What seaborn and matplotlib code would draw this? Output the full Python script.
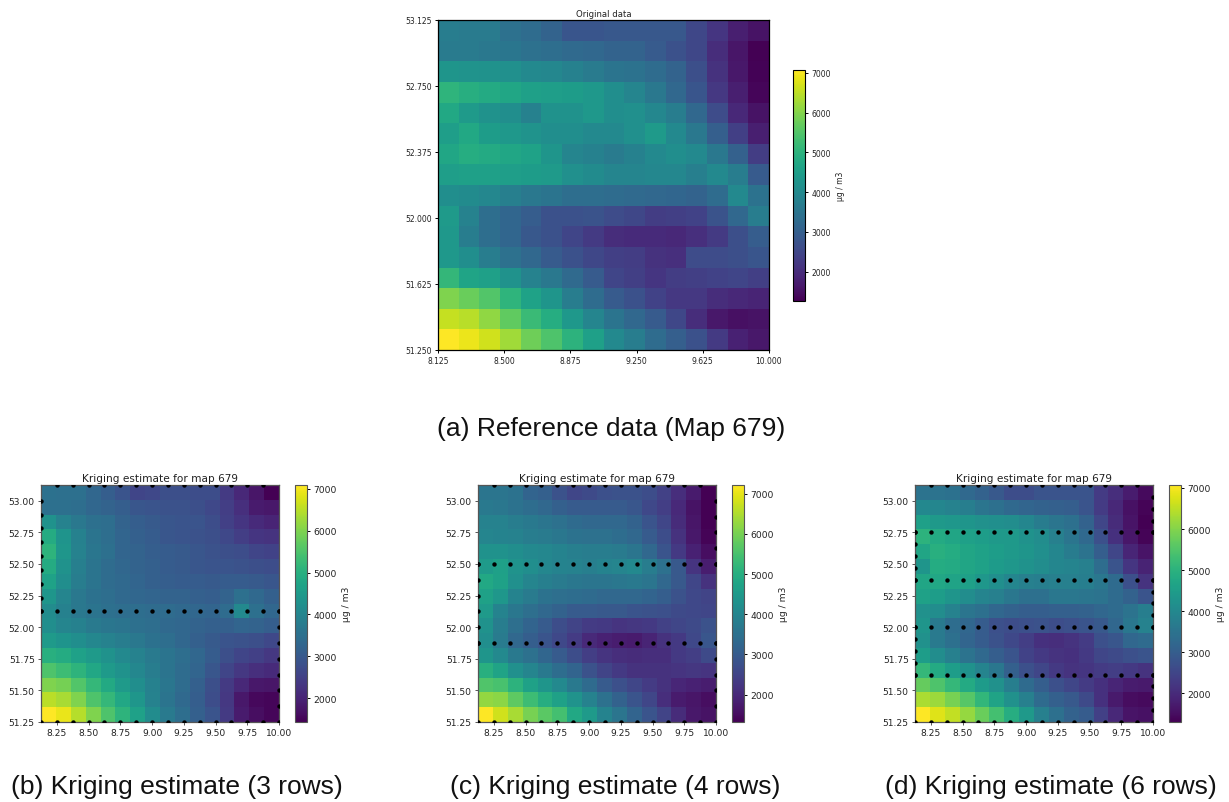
# -*- coding: utf-8 -*-
'Reference map and three kriging estimates, one heatmap for each.'
import numpy as np
import matplotlib
matplotlib.use("Agg")
import matplotlib.pyplot as plt
import seaborn as sns

# values, top row (north) first, ug / m3
map_original = [
    [3700,3650,3650,3400,3300,3100,2800,2800,2850,2850,2850,2850,2500,2150,1750,1550],
    [3650,3650,3600,3550,3400,3350,3250,3200,3100,3100,2900,2700,2500,2000,1600,1265],
    [4300,4250,4200,4150,4000,3950,3800,3650,3500,3450,3300,3100,2650,2100,1650,1290],
    [5050,4900,4800,4700,4550,4500,4450,4350,4100,3900,3600,3200,2800,2200,1750,1350],
    [4750,4400,4200,4100,3800,4200,4200,4350,4100,4150,3950,3700,3200,2600,1900,1550],
    [4500,4750,4450,4350,4250,4100,4100,4000,4000,4150,4400,4000,3600,3000,2350,1750],
    [4700,4850,4800,4700,4600,4300,3900,3800,3650,3800,4000,4100,4000,3600,3050,2300],
    [4500,4550,4550,4500,4450,4400,4150,4050,3900,3900,3950,3950,3750,4000,3700,2900],
    [4100,4050,3950,3750,3600,3500,3350,3350,3300,3250,3200,3150,3100,3300,4000,3450],
    [4400,3850,3350,3150,2950,2700,2700,2750,2600,2500,2300,2350,2400,2750,3200,3700],
    [4350,3700,3350,3150,2850,2700,2450,2250,2000,1950,1950,1900,2050,2250,2650,2950],
    [4350,4100,3700,3400,3200,2900,2700,2500,2350,2300,2100,2050,2600,2600,2650,2800],
    [5100,4650,4550,4200,3850,3600,3250,2900,2450,2350,2150,2300,2350,2400,2450,2350],
    [5950,5750,5500,5050,4600,4300,3700,3300,2900,2700,2400,2200,2200,2000,1900,1850],
    [6550,6450,6100,5650,5200,4850,4350,3900,3500,3200,2900,2500,2000,1650,1500,1550],
    [7070,6900,6650,6250,5800,5450,5000,4550,4000,3700,3300,3000,2700,2250,1800,1650],
]
map_3rows = [
    [3550,3500,3500,3300,3100,2900,2600,2650,2800,2800,2750,2750,2400,2050,1750,1430],
    [3500,3500,3450,3300,3200,3100,2950,2900,2850,2850,2800,2650,2450,2200,1850,1800],
    [4300,3950,3700,3500,3450,3200,3100,3000,2950,2900,2900,2750,2500,2300,2100,2000],
    [4900,4350,3900,3600,3450,3250,3150,3050,2950,2900,2850,2800,2650,2450,2300,2250],
    [5100,4400,3950,3650,3500,3250,3200,3100,3050,3000,2950,2850,2800,2750,2600,2550],
    [4900,4300,3850,3600,3400,3300,3200,3150,3050,3000,2950,2900,2900,2850,2800,2750],
    [4700,4200,3800,3600,3400,3350,3250,3150,3100,3050,3050,3000,3050,3050,3000,2950],
    [4400,4000,3700,3550,3450,3350,3300,3250,3200,3200,3150,3100,3200,3500,3350,3150],
    [4150,3900,3700,3600,3500,3450,3450,3400,3400,3350,3300,3250,3400,4100,3500,3300],
    [4200,4000,3900,3750,3650,3600,3500,3450,3350,3300,3200,3150,3150,3250,3200,3100],
    [4500,4350,4200,4050,3950,3800,3700,3550,3450,3300,3150,3000,2900,2850,2800,2650],
    [5000,4900,4650,4500,4300,4100,3950,3750,3600,3450,3300,3050,2800,2600,2500,2350],
    [5500,5300,5100,4800,4500,4300,4050,3800,3600,3400,3250,2950,2600,2350,2200,2100],
    [6000,5900,5550,5200,4850,4500,4200,3900,3650,3400,3150,2800,2400,2050,1800,1750],
    [6500,6350,6000,5500,5200,4800,4400,3950,3600,3350,3100,2750,2350,1800,1550,1500],
    [7090,6900,6450,6000,5500,5100,4650,4150,3750,3450,3150,2900,2400,1850,1650,1500],
]
map_4rows = [
    [3600,3600,3550,3200,3100,2800,2550,2650,2750,2800,2800,2700,2450,2100,1750,1320],
    [3700,3650,3550,3400,3300,3100,3000,3000,3000,3000,2900,2600,2400,2000,1600,1330],
    [3900,3900,3800,3700,3600,3500,3350,3300,3300,3300,3150,2850,2550,2050,1650,1340],
    [4000,3950,3900,3800,3750,3650,3550,3500,3500,3400,3300,3000,2700,2150,1700,1380],
    [4300,4300,4200,4100,4050,3950,3850,3800,3800,3750,3600,3300,2850,2300,1850,1550],
    [4500,4650,4350,4200,4050,3950,3900,3850,3950,4000,4100,3800,3500,2950,2200,1800],
    [4850,4700,4250,4000,3850,3750,3650,3600,3600,3650,3700,3600,3300,2950,2550,2150],
    [4700,4450,3950,3750,3550,3450,3400,3350,3300,3300,3300,3200,3050,2800,2600,2500],
    [4500,3950,3650,3450,3300,3150,3000,3000,2950,2950,2850,2800,2750,2650,2600,2550],
    [4300,3800,3450,3200,3000,2700,2500,2350,2300,2200,2250,2300,2450,2550,2650,2800],
    [4200,3750,3300,3050,2850,2600,2350,2000,1850,1800,1750,1900,2150,2300,2600,2900],
    [4400,4100,3700,3500,3250,3000,2700,2400,2200,2100,2050,2100,2100,2300,2400,2650],
    [5050,4750,4250,4000,3700,3400,3200,2800,2500,2300,2150,2150,2150,2200,2250,2200],
    [5600,5500,5100,4700,4400,4100,3700,3350,3000,2750,2550,2350,2150,1950,1850,1800],
    [6250,6200,5750,5350,5000,4700,4350,3900,3500,3150,2850,2550,2100,1750,1650,1550],
    [7215,6800,6450,6000,5700,5450,4850,4500,3950,3600,3200,2850,2500,2050,1700,1600],
]
map_6rows = [
    [3500,3500,3450,3250,3100,2900,2650,2650,2800,2800,2800,2800,2300,2050,1750,1450],
    [4000,3950,3850,3750,3550,3400,3250,3150,3100,3050,3000,2800,2300,1950,1550,1350],
    [4550,4400,4350,4300,4200,4150,4100,3950,3700,3550,3400,3100,2500,2000,1600,1300],
    [5000,4800,4700,4550,4500,4400,4400,4250,4100,3800,3550,3250,2700,2100,1650,1350],
    [4700,4950,4850,4700,4600,4500,4400,4300,4150,3950,3700,3500,3000,2500,1900,1600],
    [4300,4850,4800,4700,4600,4450,4350,4250,4100,3950,3900,3800,3350,2800,2200,1850],
    [4700,4750,4650,4550,4350,4150,3950,3800,3750,3800,3800,3750,3600,3300,2700,2150],
    [4600,4500,4300,4100,3900,3800,3600,3400,3400,3600,3600,3550,3500,3300,3100,2800],
    [4200,4100,3850,3550,3400,3200,3100,3000,3000,3050,3050,3100,3200,3300,3500,3750],
    [4300,3650,3350,3200,2950,2700,2650,2700,2750,2650,2700,2800,2900,3200,3600,3850],
    [4200,3650,3400,3150,2950,2750,2550,2350,2100,2050,2150,2300,2700,2850,3200,3300],
    [4500,4100,3800,3500,3250,3000,2800,2450,2250,2150,2100,2250,2500,2600,2700,2800],
    [5150,4800,4500,4250,3900,3600,3050,2700,2500,2250,2150,2200,2300,2350,2250,2150],
    [5700,5450,5150,4800,4450,4200,3750,3300,3000,2700,2500,2300,2100,1900,1750,1700],
    [6350,6200,5900,5550,5100,4650,4200,3800,3300,3050,2900,2600,2100,1700,1500,1450],
    [7073,6800,6550,6150,5750,5350,4900,4400,3800,3400,3100,2950,2400,1950,1600,1550],
]

# sample positions of the flight tracks
track_lons = [8.125,8.25,8.375,8.5,8.625,8.75,8.875,9.0,9.125,9.25,9.375,9.5,9.625,9.75,9.875,10.0]
inner_lons = [8.25,8.375,8.5,8.625,8.75,8.875,9.0,9.125,9.25,9.375,9.5,9.625,9.75,9.875]
lat_top = 53.125
lat_bottom = 51.25

rows_3 = [52.125]
left_3 = [53.0,52.891,52.781,52.672,52.562,52.453,52.344,52.234,52.125]
right_3 = [52.125,52.0,51.875,51.75,51.625,51.5,51.375,51.25]

rows_4 = [52.5,51.875]
left_4 = [52.5,52.375,52.25,52.125,52.0,51.875]
right_4 = [53.0,52.875,52.75,52.625,52.5,51.875,51.75,51.625,51.5,51.375,51.25]

rows_6 = [52.75,52.375,52.0,51.625]
left_6 = [52.75,52.656,52.562,52.469,52.375,52.0,51.906,51.812,51.719,51.625]
right_6 = [53.031,52.938,52.844,52.75,52.375,52.281,52.188,52.094,52.0,51.625,51.531,51.438,51.344,51.25]

top_xticks = [8.125,8.5,8.875,9.25,9.625,10.0]
top_yticks = [51.25,51.625,52.0,52.375,52.75,53.125]
low_xticks = [8.25,8.5,8.75,9.0,9.25,9.5,9.75,10.0]
low_yticks = [51.25,51.5,51.75,52.0,52.25,52.5,52.75,53.0]
cbar_ticks = [2000,3000,4000,5000,6000,7000]

W, H = 1229, 803
LON0, LON1 = 8.125, 10.0
LAT0, LAT1 = 51.25, 53.125
N = 16


def px_rect(x0, y0, x1, y1):
    return [x0/W, 1 - y1/H, (x1-x0)/W, (y1-y0)/H]


def to_x(lon):
    return (np.asarray(lon) - LON0)/(LON1 - LON0)*N


def to_y(lat):
    return (LAT1 - np.asarray(lat))/(LAT1 - LAT0)*N


def draw_map(fig, rect, cbar_rect, values, title, xticks, yticks, fmt, fs, title_fs, edge):
    ax = fig.add_axes(px_rect(*rect))
    cax = fig.add_axes(px_rect(*cbar_rect))
    arr = np.array(values, dtype=float)
    sns.heatmap(arr, ax=ax, cbar_ax=cax, cmap="viridis", vmin=arr.min(), vmax=arr.max(),
                square=False, xticklabels=False, yticklabels=False, linewidths=0)
    ax.set_xticks(to_x(xticks))
    ax.set_xticklabels([fmt % t for t in xticks], rotation=0, fontsize=fs, color="#222222")
    ax.set_yticks(to_y(yticks))
    ax.set_yticklabels([fmt % t for t in yticks], rotation=0, fontsize=fs, color="#222222")
    ax.tick_params(length=2.5, width=0.7, pad=2, color=edge)
    ax.set_title(title, fontsize=title_fs, pad=3, color="#222222")
    for s in ax.spines.values():
        s.set_visible(True)
        s.set_linewidth(0.9)
        s.set_edgecolor(edge)
    cb = ax.collections[0].colorbar
    cb.set_ticks(cbar_ticks)
    cb.ax.tick_params(labelsize=fs, length=2.5, width=0.7, pad=2, labelcolor="#222222")
    cb.set_label("µg / m3", fontsize=fs, labelpad=4, color="#222222")
    cb.outline.set_visible(True)
    cb.outline.set_linewidth(0.8)
    cb.outline.set_edgecolor(edge)
    return ax


def draw_track(ax, rows, left, right):
    xs, ys = [], []
    for lon in inner_lons:
        xs += [lon, lon]
        ys += [lat_top, lat_bottom]
    for lat in rows:
        for lon in track_lons:
            xs.append(lon)
            ys.append(lat)
    for lat in left:
        xs.append(LON0)
        ys.append(lat)
    for lat in right:
        xs.append(LON1)
        ys.append(lat)
    xs.append(LON0)
    ys.append(lat_bottom)
    ax.scatter(to_x(xs), to_y(ys), s=10, c="k", linewidths=0, zorder=3)


fig = plt.figure(figsize=(W/100, H/100), dpi=100)

draw_map(fig, (438, 21, 769, 351), (793, 71, 805, 302), map_original, "Original data",
         top_xticks, top_yticks, "%.3f", 5.5, 6.1, "black")

low_edge = "#555555"
ax_b = draw_map(fig, (41, 486, 279, 723), (295, 486, 307, 723), map_3rows,
                "Kriging estimate for map 679", low_xticks, low_yticks, "%.2f", 6.6, 7.6, low_edge)
draw_track(ax_b, rows_3, left_3, right_3)
ax_c = draw_map(fig, (478, 486, 716, 723), (732, 486, 744, 723), map_4rows,
                "Kriging estimate for map 679", low_xticks, low_yticks, "%.2f", 6.6, 7.6, low_edge)
draw_track(ax_c, rows_4, left_4, right_4)
ax_d = draw_map(fig, (915, 486, 1153, 723), (1169, 486, 1181, 723), map_6rows,
                "Kriging estimate for map 679", low_xticks, low_yticks, "%.2f", 6.6, 7.6, low_edge)
draw_track(ax_d, rows_6, left_6, right_6)

captions = [
    ("(a) Reference data (Map 679)", 611, 429),
    ("(b) Kriging estimate (3 rows)", 177, 787),
    ("(c) Kriging estimate (4 rows)", 615, 787),
    ("(d) Kriging estimate (6 rows)", 1051, 787),
]
for txt, cx, cy in captions:
    fig.text(cx/W, 1 - cy/H, txt, ha="center", va="center", fontsize=19,
             family="Liberation Sans", color="#111111")

fig.savefig("out.png", dpi=100)
